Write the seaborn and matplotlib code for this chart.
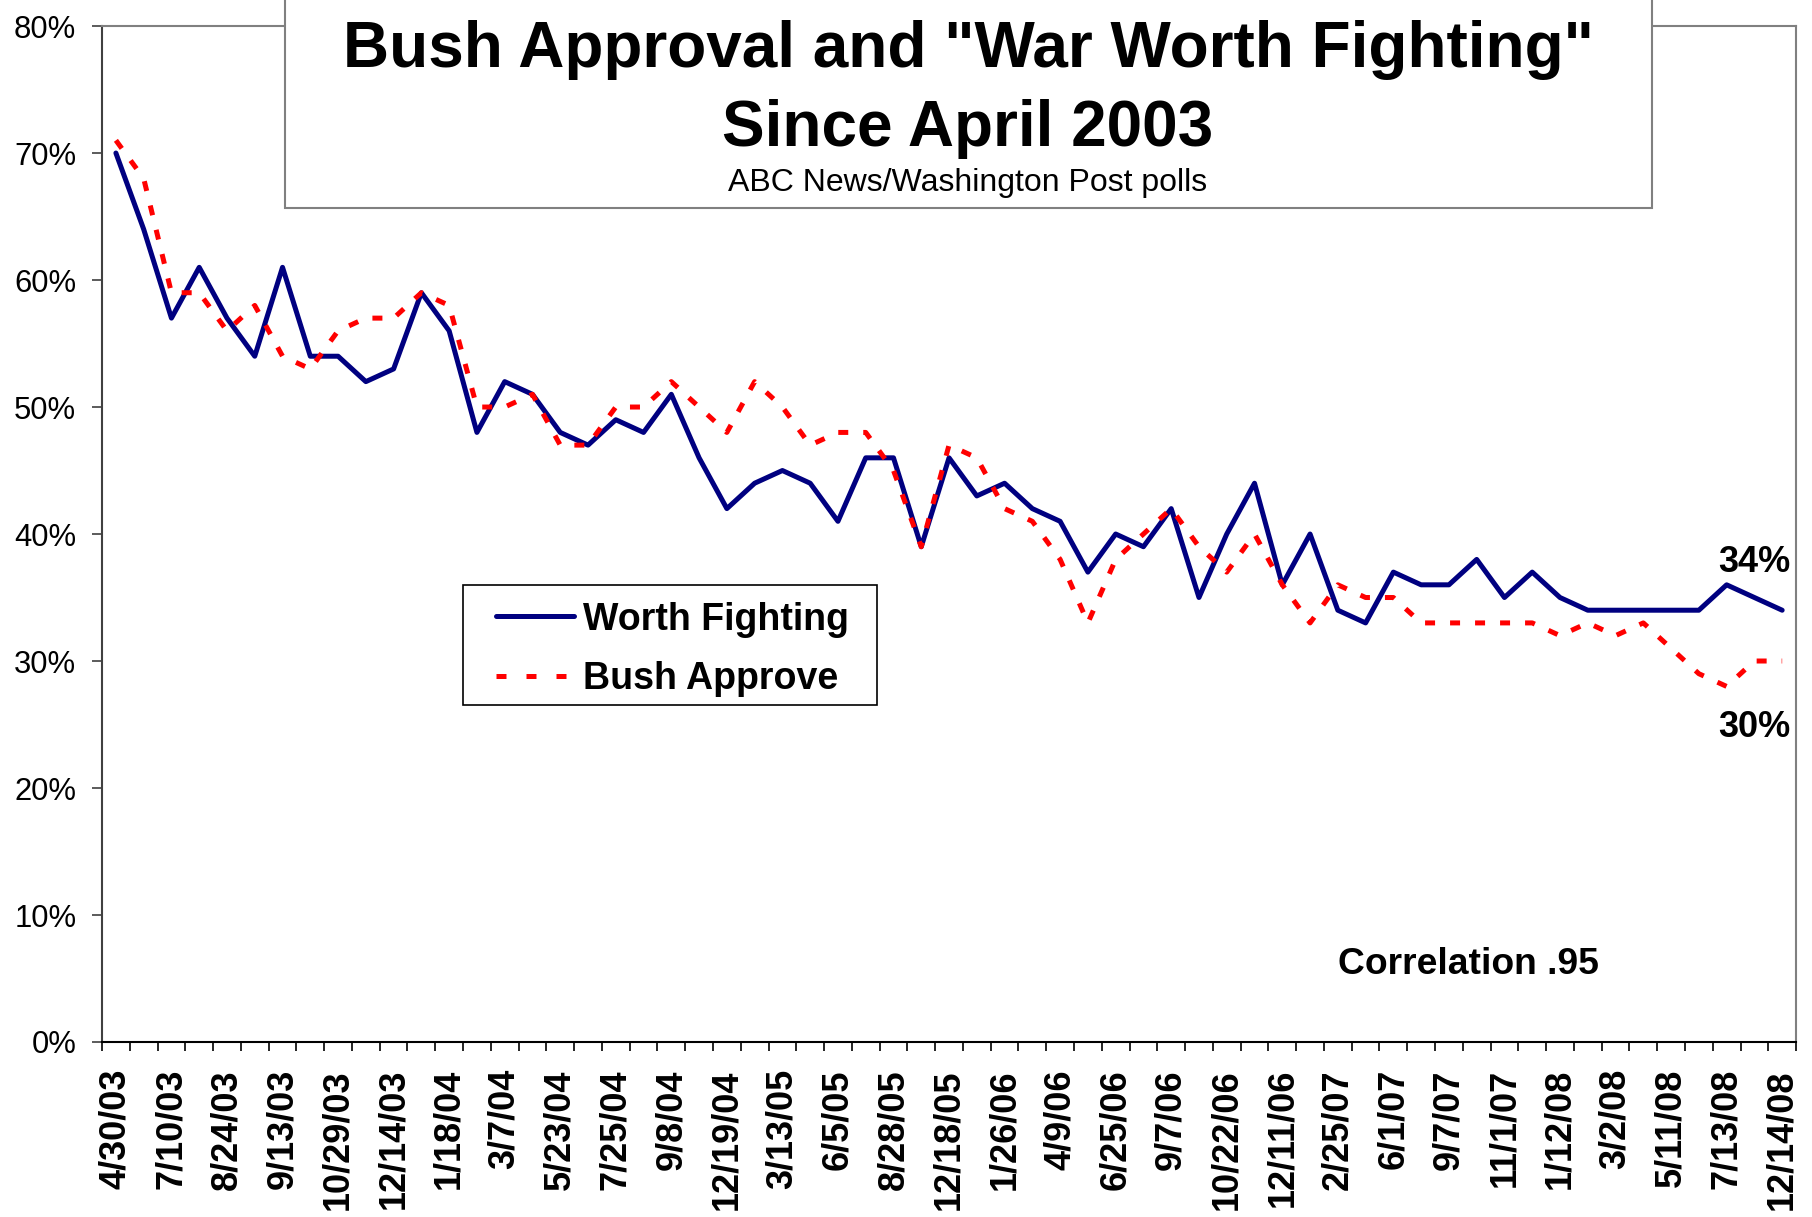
import seaborn as sns
import pandas as pd
import matplotlib.pyplot as plt
from matplotlib.patches import Rectangle
from matplotlib.ticker import FixedLocator, PercentFormatter

# poll dates shown on the axis (every other poll gets a label)
label_dates = ["4/30/03", "7/10/03", "8/24/03", "9/13/03", "10/29/03", "12/14/03",
               "1/18/04", "3/7/04", "5/23/04", "7/25/04", "9/8/04", "12/19/04",
               "3/13/05", "6/5/05", "8/28/05", "12/18/05", "1/26/06", "4/9/06",
               "6/25/06", "9/7/06", "10/22/06", "12/11/06", "2/25/07", "6/1/07",
               "9/7/07", "11/1/07", "1/12/08", "3/2/08", "5/11/08", "7/13/08",
               "12/14/08"]

# % saying the war was worth fighting, one value per poll
worth_fighting = [70, 64, 57, 61, 57, 54, 61, 54, 54, 52, 53, 59, 56, 48, 52, 51,
                  48, 47, 49, 48, 51, 46, 42, 44, 45, 44, 41, 46, 46, 39, 46, 43,
                  44, 42, 41, 37, 40, 39, 42, 35, 40, 44, 36, 40, 34, 33, 37, 36,
                  36, 38, 35, 37, 35, 34, 34, 34, 34, 34, 36, 35, 34]

# Bush job approval, same polls
bush_approve = [71, 68, 59, 59, 56, 58, 54, 53, 56, 57, 57, 59, 58, 50, 50, 51,
                47, 47, 50, 50, 52, 50, 48, 52, 50, 47, 48, 48, 45, 39, 47, 46,
                42, 41, 38, 33, 38, 40, 42, 39, 37, 40, 36, 33, 36, 35, 35, 33,
                33, 33, 33, 33, 32, 33, 32, 33, 31, 29, 28, 30, 30]

poll = list(range(len(worth_fighting)))
df = pd.DataFrame({"poll": poll, "Worth Fighting": worth_fighting,
                   "Bush Approve": bush_approve})

sns.set_style("white")
plt.rcParams["font.family"] = ["Liberation Sans", "DejaVu Sans"]
plt.rcParams["text.color"] = "black"
plt.rcParams["xtick.color"] = "black"
plt.rcParams["ytick.color"] = "black"

fig = plt.figure(figsize=(18.12, 12.17), dpi=100)
ax = fig.add_axes([0.0563, 0.1438, 0.9349, 0.8348])

sns.lineplot(data=df, x="poll", y="Worth Fighting", color="#000080", lw=3.6,
             ax=ax, label="Worth Fighting")
sns.lineplot(data=df, x="poll", y="Bush Approve", color="#FF0000", lw=3.6,
             linestyle=(0, (2, 3)), ax=ax, label="Bush Approve")

ax.set_xlabel("")
ax.set_ylabel("")
ax.set_xlim(-0.5, 60.5)
ax.set_ylim(0, 80)

# x axis: labels on every other category, tick marks between categories
ax.set_xticks(range(0, 61, 2))
ax.set_xticklabels(label_dates, rotation=90, fontsize=26, fontweight="bold")
ax.xaxis.set_minor_locator(FixedLocator([i - 0.5 for i in range(62)]))
ax.tick_params(axis="x", which="major", length=0, pad=19.5, bottom=True)
ax.tick_params(axis="x", which="minor", length=6.5, width=1.2, color="black",
               direction="out", bottom=True)

ax.set_yticks(range(0, 81, 10))
ax.yaxis.set_major_formatter(PercentFormatter(xmax=100, decimals=0))
ax.tick_params(axis="y", length=7, width=1.2, pad=11.5, labelsize=22.3,
               direction="out", left=True, color="#404040")

for side in ["top", "right"]:
    ax.spines[side].set_color("#808080")
    ax.spines[side].set_linewidth(1.5)
ax.spines["left"].set_color("#404040")
ax.spines["left"].set_linewidth(1.5)
ax.spines["bottom"].set_color("black")
ax.spines["bottom"].set_linewidth(1.5)

# legend without its own frame, the box is drawn separately
leg = ax.legend(loc="center left", bbox_to_anchor=(0.2328, 0.3865),
                prop={"size": 27, "weight": "bold"}, frameon=False,
                handlelength=2.07, handletextpad=0.24, borderpad=0,
                borderaxespad=0, labelspacing=0.63)
leg.get_lines()[1].set_linestyle((0, (2, 4)))
ax.add_patch(Rectangle((0.2132, 0.3318), 0.2444, 0.1181, transform=ax.transAxes,
                       facecolor="none", edgecolor="black", lw=1.2, zorder=4))

# title box sticking out of the top of the plot
fig.patches.append(Rectangle((0.1573, 0.829), 0.7544, 0.25,
                             transform=fig.transFigure, facecolor="white",
                             edgecolor="#808080", lw=1.5, zorder=2))
fig.text(0.5342, 1 - 66.6 / 1217, 'Bush Approval and "War Worth Fighting"',
         ha="center", va="baseline", fontsize=46, fontweight="bold", zorder=3)
fig.text(0.5342, 1 - 145.6 / 1217, "Since April 2003",
         ha="center", va="baseline", fontsize=46, fontweight="bold", zorder=3)
fig.text(0.5342, 1 - 190.7 / 1217, "ABC News/Washington Post polls",
         ha="center", va="baseline", fontsize=23, zorder=3)

ax.text(0.7298, 0.0673, "Correlation .95", transform=ax.transAxes,
        ha="left", va="baseline", fontsize=26.8, fontweight="bold")
ax.text(0.9966, 0.4631, "34%", transform=ax.transAxes, ha="right",
        va="baseline", fontsize=26, fontweight="bold")
ax.text(0.9966, 0.3005, "30%", transform=ax.transAxes, ha="right",
        va="baseline", fontsize=26, fontweight="bold")

fig.savefig("out.png", dpi=100)
